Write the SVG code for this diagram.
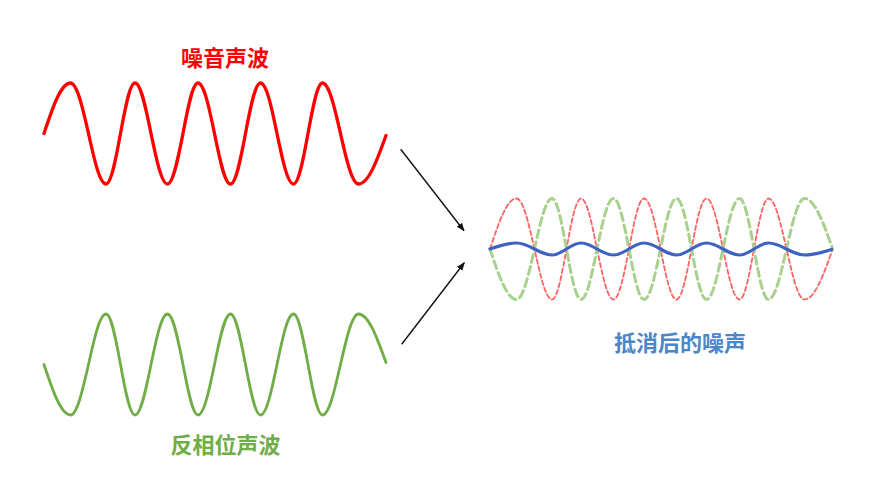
<svg xmlns="http://www.w3.org/2000/svg" xmlns:xlink="http://www.w3.org/1999/xlink" width="871" height="484" viewBox="0 0 871 484">
  <style>
    .lbl { font-family: "Noto Sans CJK SC", "Noto Sans", sans-serif; font-weight: bold; font-size: 22px; text-anchor: middle; }
    .wave { fill: none; stroke-linecap: round; stroke-linejoin: round; }
    .conn { stroke: #111; stroke-width: 1.4; fill: none; }
  </style>
  <defs>
    <path id="w" d="M44,0 C52.6,-25.9 60.9,-50.5 70.5,-50.5 C77,-50.5 82.6,-25.9 88.5,0 C94.2,25.9 99.7,50.5 106,50.5 C111.2,50.5 115.8,25.9 120.5,0 C125.2,-25.9 129.8,-50.5 135,-50.5 C140.8,-50.5 145.8,-25.9 151,0 C156.4,25.9 161.5,50.5 167.5,50.5 C173.1,50.5 177.9,25.9 183,0 C187.9,-25.9 192.6,-50.5 198,-50.5 C204,-50.5 209.1,-25.9 214.5,0 C219.7,25.9 224.7,50.5 230.5,50.5 C235.9,50.5 240.6,25.9 245.5,0 C250.4,-25.9 255.1,-50.5 260.5,-50.5 C266.5,-50.5 271.6,-25.9 277,0 C282.4,25.9 287.5,50.5 293.5,50.5 C298.7,50.5 303.3,25.9 308,0 C312.7,-25.9 317.3,-50.5 322.5,-50.5 C329,-50.5 334.6,-25.9 340.5,0 C346.4,25.9 352,50.5 358.5,50.5 C368.5,50.5 377,27 386,2"/>
    <marker id="ah" viewBox="0 0 10 10" refX="9" refY="5" markerWidth="6" markerHeight="6" orient="auto" markerUnits="strokeWidth">
      <path d="M0,1 L10,5 L0,9 Z" fill="#111"/>
    </marker>
  </defs>
  <rect width="871" height="484" fill="#ffffff"/>

  <g id="noise-wave">
    <use xlink:href="#w" href="#w" class="wave" transform="translate(0,133.5)" stroke="#ff0000" stroke-width="3.3"/>
    <text class="lbl" x="225" y="65.5" fill="#ff0000">噪音声波</text>
  </g>

  <g id="anti-wave">
    <use xlink:href="#w" href="#w" class="wave" transform="translate(0,364.5) scale(1,-1)" stroke="#70ad47" stroke-width="2.8"/>
    <text class="lbl" x="225.5" y="453" fill="#70ad47">反相位声波</text>
  </g>

  <g id="result">
    <use xlink:href="#w" href="#w" class="wave" transform="translate(446,249)" stroke="#ff6262" stroke-width="1.8" stroke-dasharray="4.5 2.8" stroke-linecap="butt"/>
    <use xlink:href="#w" href="#w" class="wave" transform="translate(446,249) scale(1,-1)" stroke="#a9d18e" stroke-width="3" stroke-dasharray="8 4.5" stroke-linecap="butt"/>
    <path class="wave" transform="translate(446,249)" stroke="#3c62c4" stroke-width="3.2" d="M44,0 C52.6,-3.1 60.9,-6 70.5,-6 C77,-6 82.6,-3.1 88.5,0 C94.2,3.1 99.7,6 106,6 C111.2,6 115.8,3.1 120.5,0 C125.2,-3.1 129.8,-6 135,-6 C140.8,-6 145.8,-3.1 151,0 C156.4,3.1 161.5,6 167.5,6 C173.1,6 177.9,3.1 183,0 C187.9,-3.1 192.6,-6 198,-6 C204,-6 209.1,-3.1 214.5,0 C219.7,3.1 224.7,6 230.5,6 C235.9,6 240.6,3.1 245.5,0 C250.4,-3.1 255.1,-6 260.5,-6 C266.5,-6 271.6,-3.1 277,0 C282.4,3.1 287.5,6 293.5,6 C298.7,6 303.3,3.1 308,0 C312.7,-3.1 317.3,-6 322.5,-6 C329,-6 334.6,-3.1 340.5,0 C346.4,3.1 352,6 358.5,6 C368.5,6 377,3.2 386,0.3"/>
    <text class="lbl" x="680" y="351" fill="#4a86c8">抵消后的噪声</text>
  </g>

  <g id="connectors">
    <line class="conn" x1="400.7" y1="149.3" x2="464" y2="230.7" marker-end="url(#ah)"/>
    <line class="conn" x1="401.7" y1="344.3" x2="464.3" y2="262.7" marker-end="url(#ah)"/>
  </g>
</svg>
